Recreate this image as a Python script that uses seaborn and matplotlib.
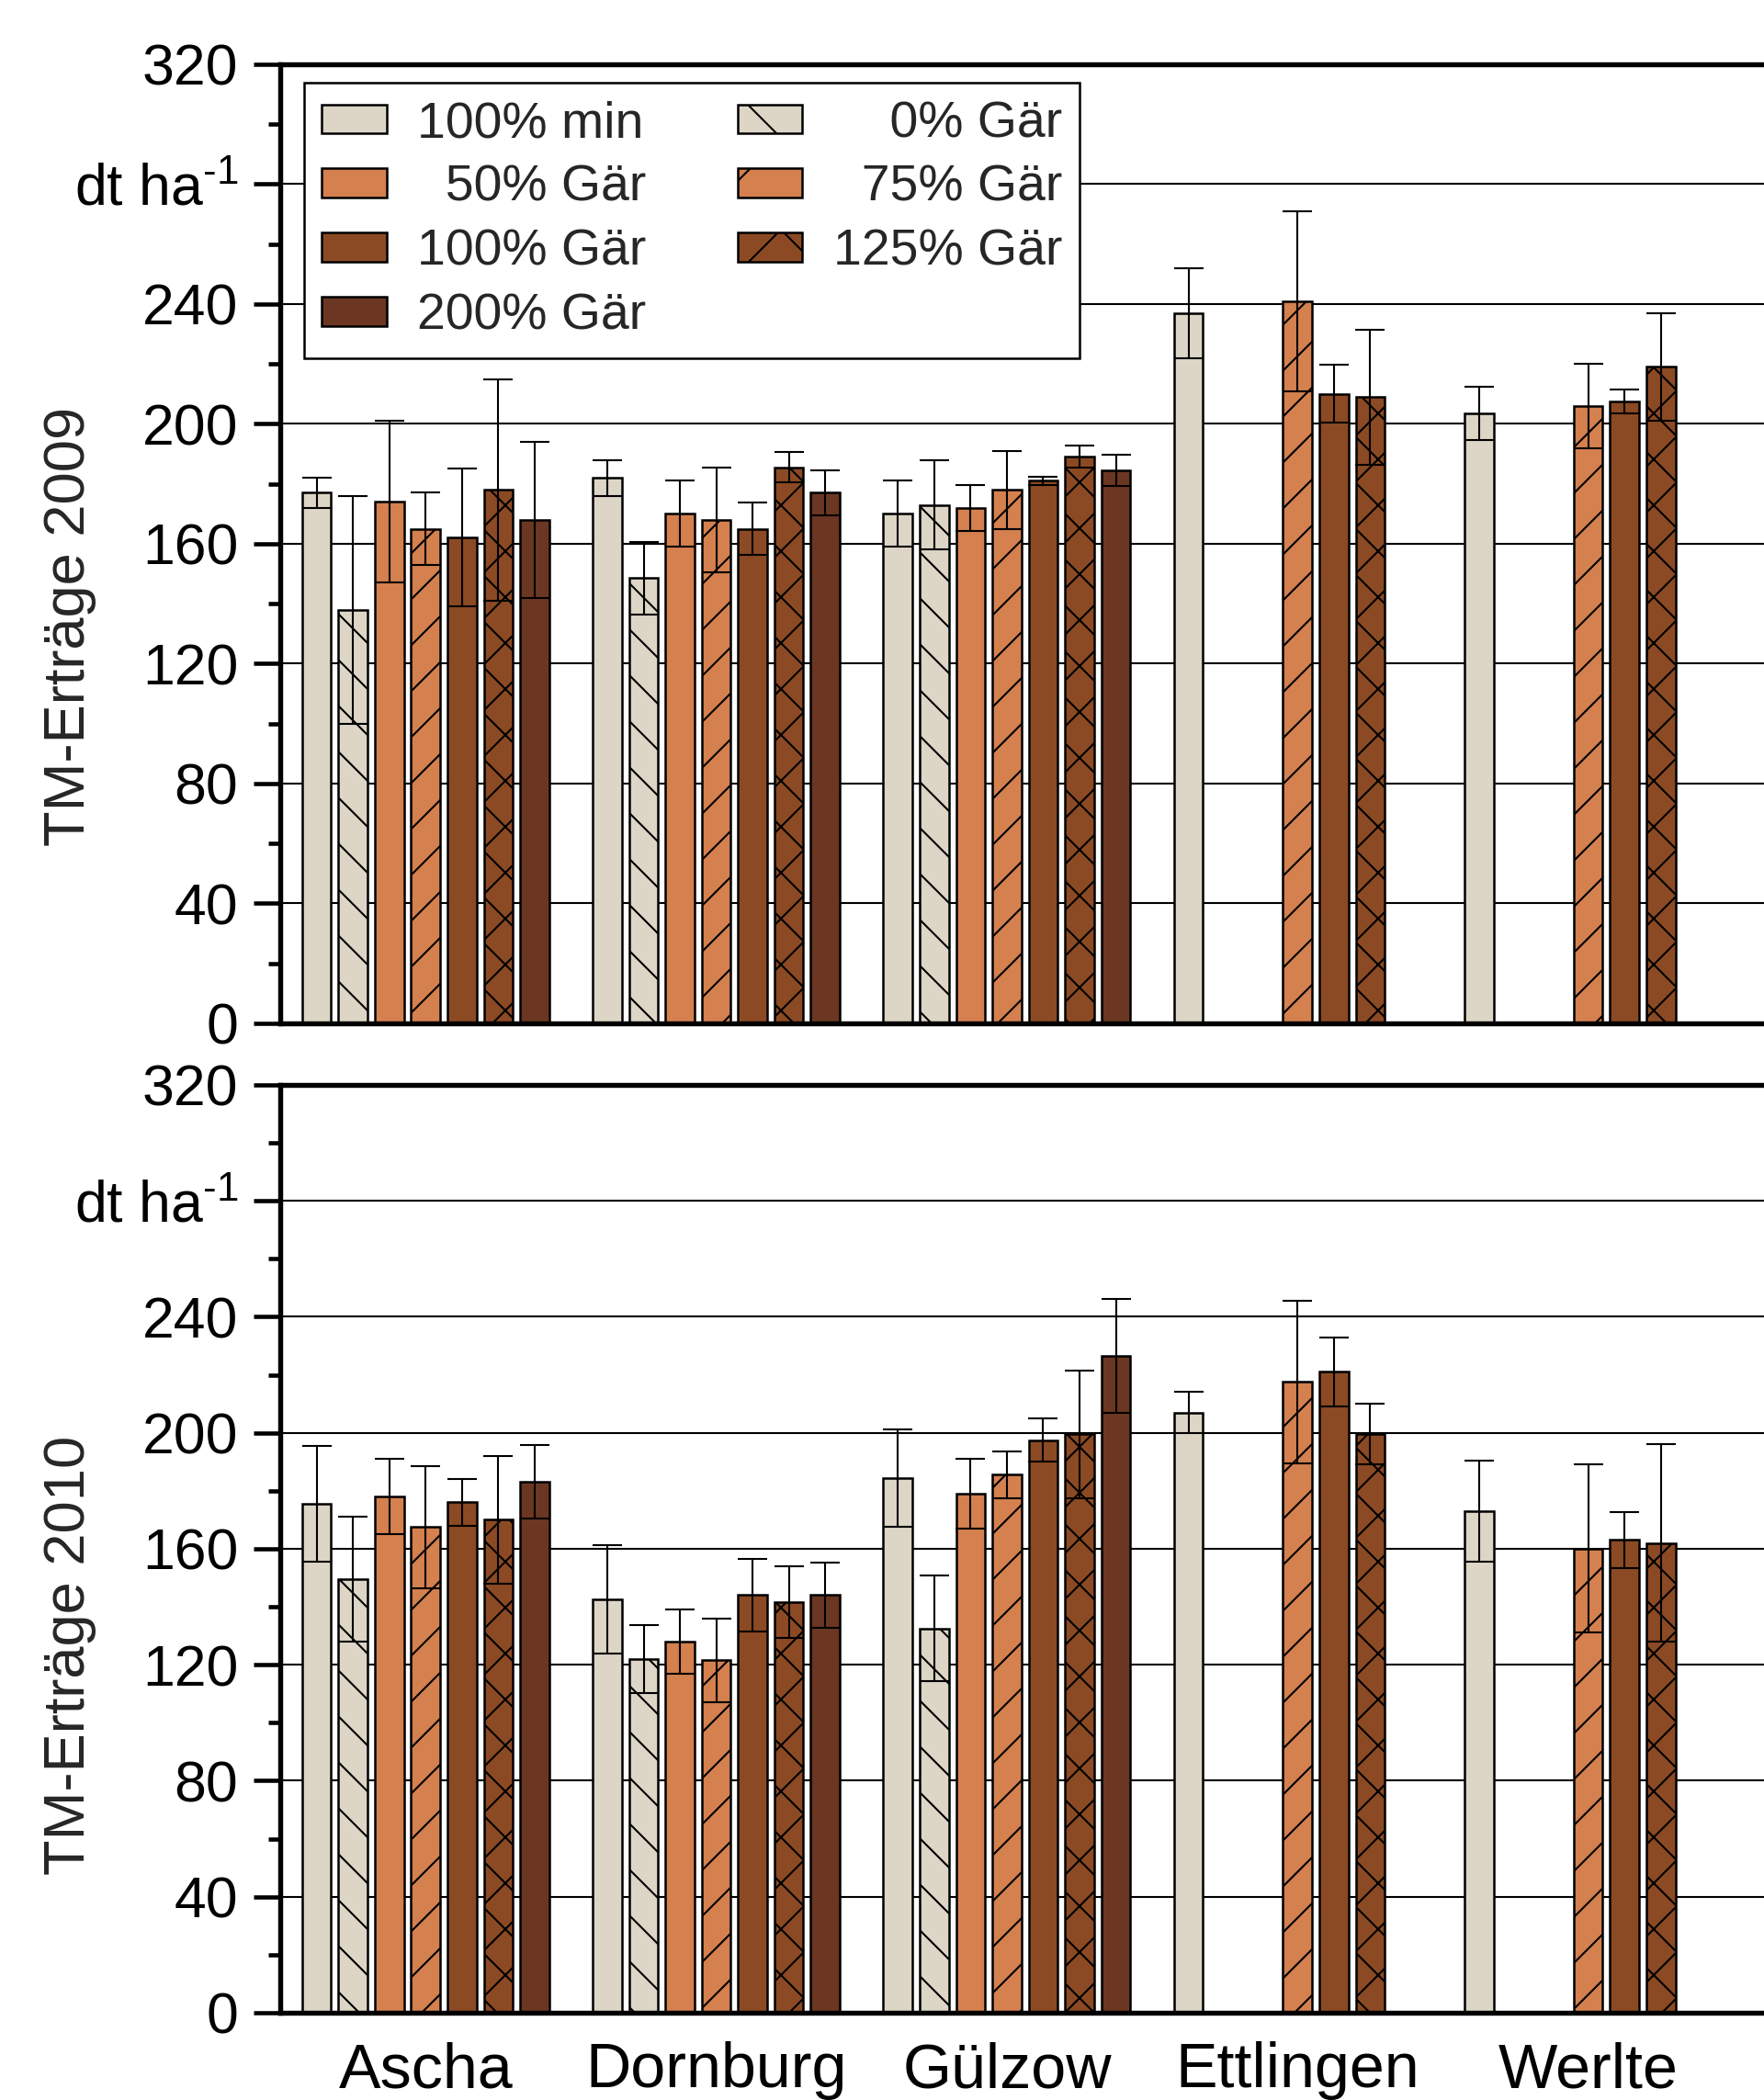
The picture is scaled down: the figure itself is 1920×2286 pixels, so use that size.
import matplotlib
matplotlib.use('Agg')
from matplotlib import pyplot as plt
from matplotlib.patches import Patch
from matplotlib.ticker import MultipleLocator
import seaborn as sns
import numpy as np
import pandas as pd

sns.set_style('white')
plt.rcParams['font.family'] = ['Liberation Sans', 'DejaVu Sans']
plt.rcParams['mathtext.fontset'] = 'custom'
plt.rcParams['mathtext.rm'] = 'Liberation Sans'
plt.rcParams['hatch.linewidth'] = 0.5

nan = np.nan
sites = ['Ascha', 'Dornburg', 'Gülzow', 'Ettlingen', 'Werlte']
levels = ['100% min', '0% Gär', '50% Gär', '75% Gär', '100% Gär', '125% Gär', '200% Gär']
colors = ['#DDD5C6', '#DDD5C6', '#D4804F', '#D4804F', '#8B4A24', '#8B4A24', '#6B3722']
hatches = ['', '\\\\', '', '//', '', 'xx', '']

# mean yields per site, one value per level (NaN = not tested)
mean_2009_ascha = [177, 138, 174, 165, 162, 178, 168]
mean_2009_dornburg = [182, 148.5, 170, 168, 165, 185.5, 177]
mean_2009_guelzow = [170, 173, 172, 178, 181, 189, 184.5]
mean_2009_ettlingen = [237, nan, nan, 241, 210, 209, nan]
mean_2009_werlte = [203.5, nan, nan, 206, 207.5, 219, nan]
sd_2009_ascha = [5, 38, 27, 12, 23, 37, 26]
sd_2009_dornburg = [6, 12, 11, 17.5, 8.7, 5, 7.6]
sd_2009_guelzow = [11, 15, 7.6, 13, 1.5, 3.7, 5.2]
sd_2009_ettlingen = [15, nan, nan, 30, 9.7, 22.5, nan]
sd_2009_werlte = [9, nan, nan, 14, 4, 18, nan]

mean_2010_ascha = [175.5, 149.5, 178, 167.5, 176, 170, 183]
mean_2010_dornburg = [142.5, 122, 128, 121.5, 144, 141.5, 144]
mean_2010_guelzow = [184.5, 132.5, 179, 185.5, 197.5, 199.5, 226.5]
mean_2010_ettlingen = [207, nan, nan, 217.5, 221, 199.5, nan]
mean_2010_werlte = [173, nan, nan, 160, 163, 162, nan]
sd_2010_ascha = [20, 21.5, 13, 21, 8, 22, 12.7]
sd_2010_dornburg = [18.7, 11.7, 11.2, 14.4, 12.4, 12.4, 11.2]
sd_2010_guelzow = [16.8, 18.2, 12, 8.1, 7.5, 22, 19.7]
sd_2010_ettlingen = [7.2, nan, nan, 28, 12, 10.4, nan]
sd_2010_werlte = [17.4, nan, nan, 29, 9.7, 34, nan]

yticks = [0, 40, 80, 120, 160, 200, 240, 280, 320]
ytick_labels = ['0', '40', '80', '120', '160', '200', '240', 'dt ha$^{\\text{-1}}$', '320']


def make_df(means, sds):
    rows = []
    for site, m, s in zip(sites, means, sds):
        for lev, mv, sv in zip(levels, m, s):
            if not np.isnan(mv):
                rows.append({'site': site, 'level': lev, 'mean': mv, 'sd': sv})
    return pd.DataFrame(rows)


df09 = make_df([mean_2009_ascha, mean_2009_dornburg, mean_2009_guelzow, mean_2009_ettlingen, mean_2009_werlte],
               [sd_2009_ascha, sd_2009_dornburg, sd_2009_guelzow, sd_2009_ettlingen, sd_2009_werlte])
df10 = make_df([mean_2010_ascha, mean_2010_dornburg, mean_2010_guelzow, mean_2010_ettlingen, mean_2010_werlte],
               [sd_2010_ascha, sd_2010_dornburg, sd_2010_guelzow, sd_2010_ettlingen, sd_2010_werlte])

fig = plt.figure(figsize=(6.4, 7.62), dpi=300)
ax1 = fig.add_axes([0.1589, 0.5127, 0.8411, 0.4567])
ax2 = fig.add_axes([0.1589, 0.0416, 0.8411, 0.4418])


def panel(ax, df, ylabel, label_y):
    sns.barplot(data=df, x='site', y='mean', hue='level', order=sites, hue_order=levels,
                palette=colors, saturation=1, width=0.875, gap=0.2, errorbar=None,
                edgecolor='black', linewidth=0.6, legend=False, ax=ax, zorder=2)
    bar_containers = list(ax.containers)
    for i, cont in enumerate(bar_containers):
        xs, ys, es = [], [], []
        for bar in cont:
            if bar is None or np.isnan(bar.get_height()):
                continue
            bar.set_hatch(hatches[i])
            cx = bar.get_x() + bar.get_width() / 2
            site = sites[int(round(cx))]
            row = df[(df['site'] == site) & (df['level'] == levels[i])].iloc[0]
            xs.append(cx)
            ys.append(row['mean'])
            es.append(row['sd'])
        ax.errorbar(xs, ys, yerr=es, fmt='none', ecolor='black', elinewidth=0.5,
                    capsize=3.8, capthick=0.5, zorder=3)

    ax.set_xlim(-0.5, 4.605)
    ax.set_ylim(0, 320)
    ax.set_yticks(yticks)
    ax.set_yticklabels(ytick_labels)
    ax.yaxis.set_minor_locator(MultipleLocator(20))
    ax.yaxis.grid(True, which='major', color='black', linewidth=0.5)
    ax.set_axisbelow(True)
    ax.tick_params(axis='y', which='major', left=True, direction='out', length=7,
                   width=1.1, labelsize=15, pad=4, colors='black')
    ax.tick_params(axis='y', which='minor', left=True, direction='out', length=3.2,
                   width=1.1, colors='black')
    ax.tick_params(axis='x', length=0, labelsize=16.4, pad=7.5, colors='black')
    for side in ['left', 'bottom', 'top']:
        ax.spines[side].set_color('black')
        ax.spines[side].set_linewidth(1.3)
    ax.spines['right'].set_visible(False)
    ax.set_xlabel('')
    ax.set_ylabel(ylabel, fontsize=15.2)
    ax.yaxis.set_label_coords(-0.124, label_y)


panel(ax1, df09, 'TM-Erträge 2009', 0.414)
panel(ax2, df10, 'TM-Erträge 2010', 0.385)
ax1.tick_params(axis='x', labelbottom=False)

legend_labels = ['100% min', '    0% Gär', '  50% Gär', '  75% Gär', '100% Gär', '125% Gär', '200% Gär']
legend_hatches = ['', '\\', '', '/', '', 'x', '']
order = [0, 2, 4, 6, 1, 3, 5]
handles = [Patch(facecolor=colors[k], edgecolor='black', hatch=legend_hatches[k], linewidth=0.6,
                 label=legend_labels[k]) for k in order]
leg = ax1.legend(handles=handles, ncol=2, loc='upper left', bbox_to_anchor=(0.016, 0.981),
                 borderaxespad=0, fontsize=13.3, frameon=True, fancybox=False,
                 edgecolor='black', framealpha=1, handlelength=1.27, handleheight=0.5,
                 handletextpad=0.6, columnspacing=1.8, labelspacing=0.32, borderpad=0.35)
leg.get_frame().set_linewidth(0.6)

plt.savefig('out.png', dpi=300)
